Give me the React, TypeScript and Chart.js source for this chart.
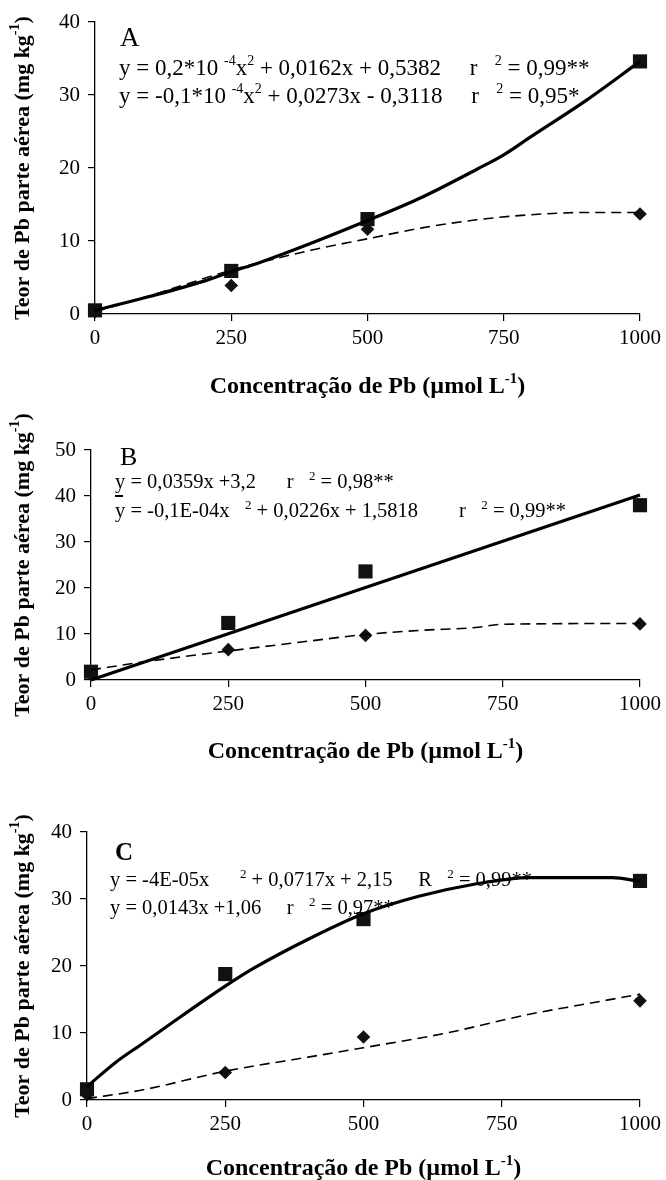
import React, { useEffect, useRef } from "react";
import { Chart, registerables } from "chart.js";

Chart.register(...registerables);

// ---------- data ----------
const X_TICKS = [0, 250, 500, 750, 1000];
const OBS_X = [0, 250, 500, 1000];

// Panel A
const A_SQUARES = [0.5, 5.9, 13.0, 34.6];
const A_DIAMONDS = [0.3, 3.9, 11.6, 13.7];
const A_SOLID_X = [0, 100, 200, 250, 300, 400, 500, 600, 700, 750, 800, 900, 1000];
const A_SOLID_Y = [0.5, 2.4, 4.5, 5.8, 7.0, 9.8, 12.8, 16.0, 19.8, 21.8, 24.3, 29.2, 34.6];
const A_DASH_X = [0, 100, 250, 300, 400, 500, 600, 700, 800, 900, 1000];
const A_DASH_Y = [0.3, 2.5, 6.0, 7.0, 8.8, 10.3, 11.8, 12.9, 13.6, 13.9, 13.9];

// Panel B
const B_SQUARES = [1.8, 12.4, 23.6, 38.0];
const B_DIAMONDS = [1.3, 6.6, 9.7, 12.2];
const B_SOLID_X = [0, 1000];
const B_SOLID_Y = [0, 40.2];
const B_DASH_X = [0, 100, 250, 400, 500, 600, 700, 750, 1000];
const B_DASH_Y = [2.2, 4.0, 6.3, 8.5, 9.9, 10.8, 11.4, 12.1, 12.3];

// Panel C
const C_SQUARES = [1.6, 18.8, 27.0, 32.7];
const C_DIAMONDS = [0.8, 4.1, 9.4, 14.8];
const C_SOLID_X = [0, 50, 100, 150, 200, 250, 300, 400, 500, 600, 700, 800, 900, 950, 1000];
const C_SOLID_Y = [2.0, 5.5, 8.4, 11.3, 14.2, 17.0, 19.6, 24.0, 27.8, 30.4, 32.2, 33.2, 33.2, 33.2, 32.6];
const C_DASH_X = [0, 100, 250, 400, 500, 650, 800, 900, 1000];
const C_DASH_Y = [0.2, 1.5, 4.3, 6.4, 7.8, 10.0, 12.8, 14.3, 15.8];

const X_TITLE = "Concentração de Pb (µmol L";
const Y_TITLE = "Teor de Pb parte aérea (mg kg";

// ---------- rich text ----------
type Seg = { t: string; sup?: boolean };
type Label = {
  x?: number;
  y?: number;
  size: number;
  bold?: boolean;
  segs: Seg[];
  center?: boolean;
  rotate?: boolean;
};

const FAM = '"Liberation Serif", "Times New Roman", serif';

function drawRich(ctx: CanvasRenderingContext2D, lab: Label, x: number, y: number) {
  const w0 = lab.bold ? "bold " : "";
  const base = `${w0}${lab.size}px ${FAM}`;
  const sup = `${w0}${Math.round(lab.size * 0.62)}px ${FAM}`;
  let w = 0;
  for (const s of lab.segs) {
    ctx.font = s.sup ? sup : base;
    w += ctx.measureText(s.t).width;
  }
  ctx.save();
  ctx.translate(x, y);
  if (lab.rotate) ctx.rotate(-Math.PI / 2);
  ctx.fillStyle = "#000";
  ctx.textBaseline = "alphabetic";
  ctx.textAlign = "left";
  let cx = lab.center ? -w / 2 : 0;
  const bl = lab.size * 0.35;
  for (const s of lab.segs) {
    ctx.font = s.sup ? sup : base;
    ctx.fillText(s.t, cx, s.sup ? bl - lab.size * 0.42 : bl);
    cx += ctx.measureText(s.t).width;
  }
  ctx.restore();
}

const richPlugin = {
  id: "richText",
  afterDraw(chart: any, _args: any, opts: any) {
    const ctx = chart.ctx as CanvasRenderingContext2D;
    const ca = chart.chartArea;
    for (const lab of (opts.labels || []) as Label[]) {
      const x = lab.x !== undefined ? lab.x : (ca.left + ca.right) / 2;
      const y = lab.y !== undefined ? lab.y : (ca.top + ca.bottom) / 2;
      drawRich(ctx, lab, x, y);
    }
    for (const m of (opts.marks || []) as number[][]) {
      ctx.save();
      ctx.strokeStyle = "#000";
      ctx.lineWidth = 2;
      ctx.beginPath();
      ctx.moveTo(m[0], m[1]);
      ctx.lineTo(m[2], m[3]);
      ctx.stroke();
      ctx.restore();
    }
  },
};

function pts(xs: number[], ys: number[]) {
  return xs.map((x, i) => ({ x, y: ys[i] }));
}

type PanelCfg = {
  height: number;
  top: number;
  bottom: number;
  left: number;
  yMax: number;
  squares: number[];
  diamonds: number[];
  solid: { x: number; y: number }[];
  dash: { x: number; y: number }[];
  xTitleY: number;
  labels: Label[];
  marks?: number[][];
};

const W = 666;
const RIGHT = 642;

function makeConfig(p: PanelCfg): any {
  const tickFont = { family: FAM, size: 21 };
  return {
    type: "scatter",
    data: {
      datasets: [
        {
          data: p.solid,
          showLine: true,
          borderColor: "#000",
          borderWidth: 3.2,
          pointRadius: 0,
          cubicInterpolationMode: "monotone",
          clip: false,
        },
        {
          data: p.dash,
          showLine: true,
          borderColor: "#000",
          borderWidth: 1.6,
          borderDash: [10, 6],
          pointRadius: 0,
          cubicInterpolationMode: "monotone",
          clip: false,
        },
        {
          data: pts(OBS_X, p.squares),
          pointStyle: "rect",
          pointRadius: 10,
          backgroundColor: "#111",
          borderColor: "#111",
          borderWidth: 0,
          clip: false,
        },
        {
          data: pts(OBS_X, p.diamonds),
          pointStyle: "rectRot",
          pointRadius: 6.8,
          backgroundColor: "#111",
          borderColor: "#111",
          borderWidth: 0,
          clip: false,
        },
      ],
    },
    options: {
      animation: false,
      responsive: false,
      events: [],
      layout: { padding: { top: p.top, right: W - RIGHT, left: 0, bottom: 0 } },
      plugins: {
        legend: { display: false },
        tooltip: { enabled: false },
        richText: {
          marks: p.marks || [],
          labels: [
            ...p.labels,
            {
              x: 21,
              size: 22,
              bold: true,
              rotate: true,
              center: true,
              segs: [{ t: Y_TITLE }, { t: "-1", sup: true }, { t: ")" }],
            },
            {
              y: p.xTitleY,
              size: 24,
              bold: true,
              center: true,
              segs: [{ t: X_TITLE }, { t: "-1", sup: true }, { t: ")" }],
            },
          ],
        },
      },
      scales: {
        x: {
          type: "linear",
          min: 0,
          max: 1000,
          afterBuildTicks: (s: any) => {
            s.ticks = X_TICKS.map((v) => ({ value: v }));
          },
          afterFit: (s: any) => {
            s.height = p.height - p.bottom;
          },
          grid: { drawOnChartArea: false, tickLength: 7, color: "#000", lineWidth: 1.2 },
          border: { color: "#000", width: 1.3 },
          ticks: {
            font: tickFont,
            color: "#000",
            padding: 5,
            maxRotation: 0,
            callback: (v: any) => String(v),
          },
        },
        y: {
          type: "linear",
          min: 0,
          max: p.yMax,
          afterFit: (s: any) => {
            s.width = p.left;
          },
          grid: { drawOnChartArea: false, tickLength: 7, color: "#000", lineWidth: 1.2 },
          border: { color: "#000", width: 1.3 },
          ticks: { font: tickFont, color: "#000", padding: 8, stepSize: 10, callback: (v: any) => String(v) },
        },
      },
    },
    plugins: [richPlugin],
  };
}

const PANELS: { offset: number; cfg: PanelCfg }[] = [
  {
    offset: 0,
    cfg: {
      height: 400,
      top: 22,
      bottom: 314,
      left: 95,
      yMax: 40,
      squares: A_SQUARES,
      diamonds: A_DIAMONDS,
      solid: pts(A_SOLID_X, A_SOLID_Y),
      dash: pts(A_DASH_X, A_DASH_Y),
      xTitleY: 385,
      labels: [
        { x: 120, y: 37, size: 27, segs: [{ t: "A" }] },
        {
          x: 119,
          y: 67,
          size: 23,
          segs: [
            { t: "y = 0,2*10 " },
            { t: "-4", sup: true },
            { t: "x" },
            { t: "2", sup: true },
            { t: " + 0,0162x + 0,5382     r   " },
            { t: "2", sup: true },
            { t: " = 0,99**" },
          ],
        },
        {
          x: 119,
          y: 95,
          size: 23,
          segs: [
            { t: "y = -0,1*10 " },
            { t: "-4", sup: true },
            { t: "x" },
            { t: "2", sup: true },
            { t: " + 0,0273x - 0,3118     r   " },
            { t: "2", sup: true },
            { t: " = 0,95*" },
          ],
        },
      ],
    },
  },
  {
    offset: 400,
    cfg: {
      height: 380,
      top: 50,
      bottom: 280,
      left: 91,
      yMax: 50,
      squares: B_SQUARES,
      diamonds: B_DIAMONDS,
      solid: pts(B_SOLID_X, B_SOLID_Y),
      dash: pts(B_DASH_X, B_DASH_Y),
      xTitleY: 350,
      marks: [[115, 96, 123, 96]],
      labels: [
        { x: 120, y: 56, size: 26, segs: [{ t: "B" }] },
        {
          x: 115,
          y: 81,
          size: 20.5,
          segs: [
            { t: "y = 0,0359x +3,2      r   " },
            { t: "2", sup: true },
            { t: " = 0,98**" },
          ],
        },
        {
          x: 115,
          y: 110,
          size: 20.5,
          segs: [
            { t: "y = -0,1E-04x   " },
            { t: "2", sup: true },
            { t: " + 0,0226x + 1,5818        r   " },
            { t: "2", sup: true },
            { t: " = 0,99**" },
          ],
        },
      ],
    },
  },
  {
    offset: 780,
    cfg: {
      height: 400,
      top: 52,
      bottom: 320,
      left: 87,
      yMax: 40,
      squares: C_SQUARES,
      diamonds: C_DIAMONDS,
      solid: pts(C_SOLID_X, C_SOLID_Y),
      dash: pts(C_DASH_X, C_DASH_Y),
      xTitleY: 387,
      labels: [
        { x: 115, y: 71, size: 25, bold: true, segs: [{ t: "C" }] },
        {
          x: 110,
          y: 99,
          size: 20.5,
          segs: [
            { t: "y = -4E-05x      " },
            { t: "2", sup: true },
            { t: " + 0,0717x + 2,15     R   " },
            { t: "2", sup: true },
            { t: " = 0,99**" },
          ],
        },
        {
          x: 110,
          y: 127,
          size: 20.5,
          segs: [
            { t: "y = 0,0143x +1,06     r   " },
            { t: "2", sup: true },
            { t: " = 0,97**" },
          ],
        },
      ],
    },
  },
];

function Panel({ offset, cfg }: { offset: number; cfg: PanelCfg }) {
  const ref = useRef<HTMLCanvasElement>(null);
  useEffect(() => {
    const chart = new Chart(ref.current as HTMLCanvasElement, makeConfig(cfg));
    return () => chart.destroy();
  }, [cfg]);
  return (
    <div style={{ position: "absolute", left: 0, top: offset, width: W, height: cfg.height }}>
      <canvas ref={ref} width={W} height={cfg.height} style={{ display: "block", width: W, height: cfg.height }} />
    </div>
  );
}

export default function App() {
  return (
    <div style={{ position: "absolute", left: 0, top: 0, width: W, height: 1180, background: "#fff" }}>
      {PANELS.map((p, i) => (
        <Panel key={i} offset={p.offset} cfg={p.cfg} />
      ))}
    </div>
  );
}
